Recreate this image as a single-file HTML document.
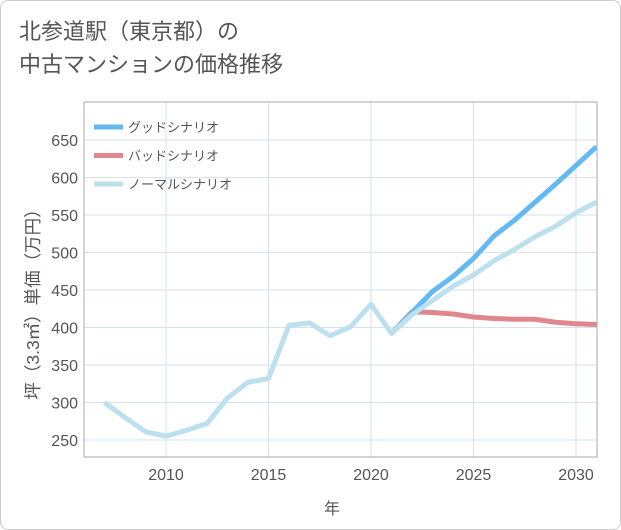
<!DOCTYPE html>
<html><head><meta charset="utf-8"><style>
body{margin:0;background:#fff;}
#wrap{position:relative;width:619px;height:528px;border:1px solid #ccc;border-radius:8px;overflow:hidden;background:#fff;font-family:"Liberation Sans","Noto Sans CJK JP",sans-serif;}
h1{position:absolute;left:18px;top:14px;margin:0;font-weight:normal;font-size:22px;line-height:33px;color:#555;}
</style></head><body>
<div id="wrap">
<h1>北参道駅（東京都）の<br>中古マンションの価格推移</h1>
<svg id="chart" width="621" height="530" style="position:absolute;left:-1px;top:-1px"></svg>
</div>
<script>
const years=[2007,2008,2009,2010,2011,2012,2013,2014,2015,2016,2017,2018,2019,2020,2021,2022,2023,2024,2025,2026,2027,2028,2029,2030,2031];
const normalVals=[300,280,261,255,263,272,306,327,332,403,406,389,401,431,392,417,436,455,470,489,504,521,535,553,567];
const goodYears=[2021,2022,2023,2024,2025,2026,2027,2028,2029,2030,2031];
const goodVals=[392,420,448,468,492,522,543,567,591,616,641];
const badVals=[392,421,420,418,414,412,411,411,407,405,404];
const yTicks=[250,300,350,400,450,500,550,600,650];
const xTicks=[2010,2015,2020,2025,2030];
const legendLabels=["グッドシナリオ","バッドシナリオ","ノーマルシナリオ"];
const colors=["#64b9f0","#e0868e","#bde0ee"];
const L=84,R=597,T=102,B=457;
const x=v=>166+(v-2010)*20.5;
const y=v=>440-(v-250)*0.75;
const svg=document.getElementById('chart');
const NS='http://www.w3.org/2000/svg';
function mk(t,a){const e=document.createElementNS(NS,t);for(const k in a)e.setAttribute(k,a[k]);svg.appendChild(e);return e;}
for(const t of yTicks){
 const g=mk('line',{x1:L,x2:R,y1:y(t),y2:y(t),stroke:'#d5e3ee','stroke-width':1});
 
 
 const tx=mk('text',{x:L-6,y:y(t)+6,'text-anchor':'end','font-size':16,fill:'#555'});
 tx.textContent=t;
 
 
}
for(const t of xTicks){
 const g=mk('line',{x1:x(t),x2:x(t),y1:T,y2:B,stroke:'#d5e3ee','stroke-width':1});
 
 
 const tx=mk('text',{x:x(t),y:B+23,'text-anchor':'middle','font-size':16,fill:'#555'});
 tx.textContent=t;
 
 
}
const ax=mk('path',{d:`M${L},${T}V${B}H${R}V${T}H${L}`,fill:'none',stroke:'#aaa','stroke-width':1});


function line(xs,vs,c,name){
 const p=mk('polyline',{points:xs.map((v,i)=>x(v)+','+y(vs[i])).join(' '),fill:'none',stroke:c,'stroke-width':5,'stroke-linejoin':'round'});
 
 
}
const cp=mk('clipPath',{id:'cp'});cp.appendChild(document.createElementNS(NS,'rect'));
const cr=cp.firstChild;cr.setAttribute('x',L);cr.setAttribute('y',T);cr.setAttribute('width',R-L);cr.setAttribute('height',B-T);
line(goodYears,badVals,colors[1],'bad-scenario-line');
line(goodYears,goodVals,colors[0],'good-scenario-line');
line(years,normalVals,colors[2],'normal-scenario-line');
svg.querySelectorAll('polyline').forEach(p=>p.setAttribute('clip-path','url(#cp)'));
legendLabels.forEach((lb,i)=>{
 const yy=127+i*28.5;
 const l=mk('line',{x1:94,x2:123,y1:yy,y2:yy,stroke:colors[i],'stroke-width':5});
 
 
 const t=mk('text',{x:128,y:yy+5,'font-size':13,fill:'#555'});
 t.textContent=lb;
 
 
});
const yt=mk('text',{transform:'translate(39,300) rotate(-90)','text-anchor':'middle','font-size':17.5,fill:'#555'});
yt.textContent='坪（3.3㎡）単価（万円）';


const xt=mk('text',{x:332,y:514,'text-anchor':'middle','font-size':16,fill:'#555'});
xt.textContent='年';


</script>
</body></html>
